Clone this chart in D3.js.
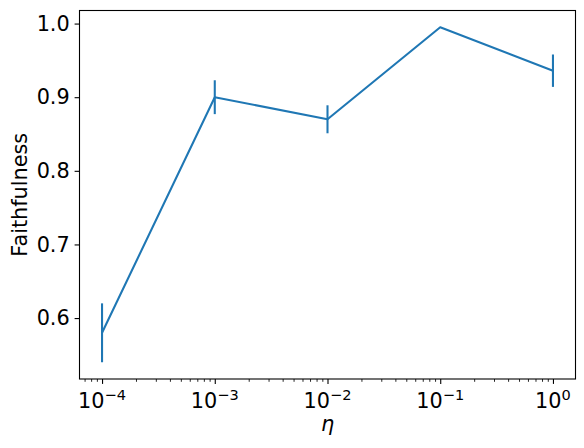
<!DOCTYPE html>
<html>
<head>
<meta charset="utf-8">
<script src="https://cdn.jsdelivr.net/npm/d3@7"></script>
<style>
  html, body { margin: 0; padding: 0; background: #fff; }
  svg { display: block; }
  text { font-family: "DejaVu Sans", sans-serif; fill: #000; }
</style>
</head>
<body>
<svg id="chart" width="584" height="448"></svg>
<script>
// ---- data ----
const etas = [1e-4, 1e-3, 1e-2, 1e-1, 1e0];
const faithfulness = [0.580, 0.900, 0.870, 0.995, 0.936];
const errors = [0.040, 0.023, 0.019, 0.0, 0.022];
const xTickExponents = ["−4", "−3", "−2", "−1", "0"];
const xTickValues = [1e-4, 1e-3, 1e-2, 1e-1, 1e0];
const yTickValues = [0.6, 0.7, 0.8, 0.9, 1.0];
const yTickLabels = ["0.6", "0.7", "0.8", "0.9", "1.0"];
const xLabel = "η";
const yLabel = "Faithfulness";

// ---- layout ----
const W = 584, H = 448;
const L = 79.5, R = 575.5, T = 10.5, B = 379;
const color = "#1f77b4";
const fs = 20.8;

const svg = d3.select("#chart");

// domains with matplotlib-like 5% margins
const lx0 = Math.log10(d3.min(etas)), lx1 = Math.log10(d3.max(etas));
const mx = (lx1 - lx0) * 0.05;
const x = d3.scaleLog().domain([Math.pow(10, lx0 - mx), Math.pow(10, lx1 + mx)]).range([L, R]);

const lo = d3.min(faithfulness.map((v, i) => v - errors[i]));
const hi = d3.max(faithfulness.map((v, i) => v + errors[i]));
const my = (hi - lo) * 0.05;
const y = d3.scaleLinear().domain([lo - my, hi + my]).range([B, T]);

// minor ticks
const minor = [];
for (let e = -6; e <= 1; e++) {
  for (let m = 2; m <= 9; m++) {
    const v = m * Math.pow(10, e);
    if (v >= x.domain()[0] && v <= x.domain()[1]) minor.push(v);
  }
}

// x axis
const xAxis = d3.axisBottom(x).tickValues(xTickValues).tickSize(4.9).tickPadding(4).tickFormat(() => "");
const gx = svg.append("g").attr("transform", `translate(0,${B})`).call(xAxis);
gx.select(".domain").remove();
gx.selectAll(".tick line").attr("stroke", "#000").attr("stroke-width", 1.1);
gx.selectAll(".tick text").remove();

const xMinorAxis = d3.axisBottom(x).tickValues(minor).tickSize(2.8).tickFormat(() => "");
const gxm = svg.append("g").attr("transform", `translate(0,${B})`).call(xMinorAxis);
gxm.select(".domain").remove();
gxm.selectAll(".tick line").attr("stroke", "#000").attr("stroke-width", 0.85);

// x tick labels: 10^{exp}
xTickValues.forEach((v, i) => {
  const t = svg.append("text")
    .attr("x", x(v))
    .attr("y", 408)
    .attr("text-anchor", "middle")
    .style("font-size", fs + "px");
  t.append("tspan").text("10");
  t.append("tspan").attr("dy", -8.5).style("font-size", (fs * 0.7) + "px").text(xTickExponents[i]);
});

// y axis
const yAxis = d3.axisLeft(y).tickValues(yTickValues).tickSize(4.9).tickPadding(4.9)
  .tickFormat((d, i) => yTickLabels[i]);
const gy = svg.append("g").attr("transform", `translate(${L},0)`).call(yAxis);
gy.select(".domain").remove();
gy.selectAll(".tick line").attr("stroke", "#000").attr("stroke-width", 1.1);
gy.selectAll(".tick text")
  .style("font-size", fs + "px")
  .style("font-family", "DejaVu Sans, sans-serif")
  .attr("fill", "#000");

// frame
svg.append("rect")
  .attr("x", L).attr("y", T).attr("width", R - L).attr("height", B - T)
  .attr("fill", "none").attr("stroke", "#000").attr("stroke-width", 1.1);

// line
const line = d3.line().x((d, i) => x(etas[i])).y(d => y(d));
svg.append("path")
  .datum(faithfulness)
  .attr("d", line)
  .attr("fill", "none")
  .attr("stroke", color)
  .attr("stroke-width", 2.08)
  .attr("stroke-linejoin", "round")
  .attr("stroke-linecap", "butt");

// error bars
svg.append("g").selectAll("line")
  .data(faithfulness)
  .join("line")
  .attr("x1", (d, i) => x(etas[i]))
  .attr("x2", (d, i) => x(etas[i]))
  .attr("y1", (d, i) => y(d - errors[i]))
  .attr("y2", (d, i) => y(d + errors[i]))
  .attr("stroke", color)
  .attr("stroke-width", 2.08);

// axis labels
svg.append("text")
  .attr("x", (L + R) / 2)
  .attr("y", 431)
  .attr("text-anchor", "middle")
  .style("font-size", fs + "px")
  .style("font-style", "italic")
  .text(xLabel);

svg.append("text")
  .attr("transform", `translate(26.5,${(T + B) / 2}) rotate(-90)`)
  .attr("text-anchor", "middle")
  .style("font-size", fs + "px")
  .text(yLabel);
</script>
</body>
</html>
